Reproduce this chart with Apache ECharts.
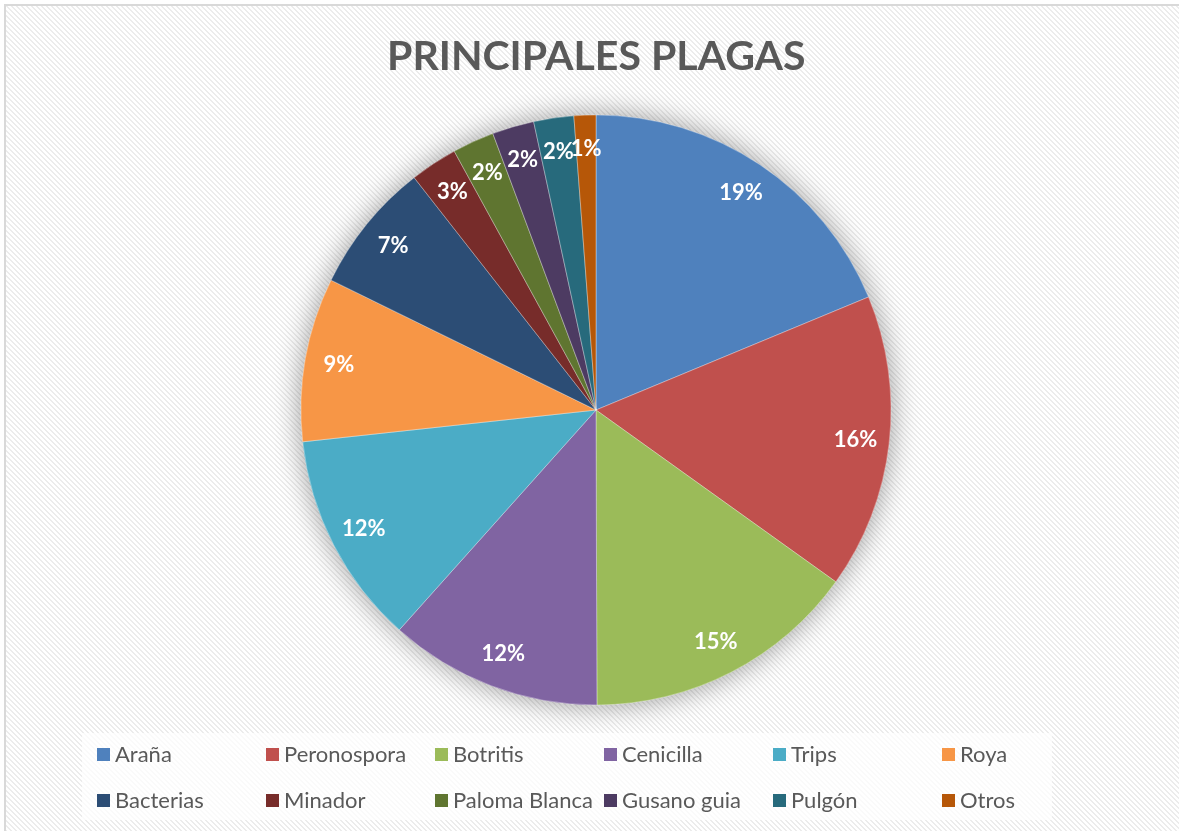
<!DOCTYPE html>
<html>
<head>
<meta charset="utf-8">
<script src="https://cdn.jsdelivr.net/npm/echarts@6/dist/echarts.min.js"></script>
<style>
  html, body { margin: 0; padding: 0; background: #fff; }
  #chart { width: 1179px; height: 831px; }
</style>
</head>
<body>
<div id="chart"></div>
<script>
// datos
var plagas = ['Araña', 'Peronospora', 'Botritis', 'Cenicilla', 'Trips', 'Roya',
  'Bacterias', 'Minador', 'Paloma Blanca', 'Gusano guia', 'Pulgón', 'Otros']
var valores = [18.8, 16.2, 15.1, 11.7, 11.7, 9.0, 7.2, 2.6, 2.3, 2.3, 2.2, 1.2]
var colores = ['#4F81BD', '#C0504D', '#9BBB59', '#8064A2', '#4BACC6', '#F79646',
  '#2C4D75', '#772C2A', '#5F7530', '#4D3B62', '#276A7C', '#B65708']

var FONT = 'Lato'

// trama diagonal del fondo
var tile = document.createElement('canvas')
tile.width = 5
tile.height = 5
var tctx = tile.getContext('2d')
tctx.fillStyle = '#ffffff'
tctx.fillRect(0, 0, 5, 5)
tctx.fillStyle = '#ececec'
for (var i = 0; i < 5; i++) {
  tctx.fillRect(i, i, 1, 1)
  tctx.fillRect((i + 1) % 5, i, 1, 1)
}

var datos = plagas.map(function (n, k) {
  return { name: n, value: valores[k], itemStyle: { color: colores[k] } }
})

// la ultima columna de la leyenda es mas corta
var leyenda = plagas.map(function (n, k) {
  return (k % 6 === 5) ? { name: n, textStyle: { width: 70 } } : n
})

var centro = [596, 410]
var radio = 295

var option = {
  backgroundColor: '#ffffff',
  animation: false,
  graphic: [{
    type: 'rect',
    z: -10,
    shape: { x: 5, y: 5, width: 1400, height: 1000 },
    style: {
      fill: { image: tile, repeat: 'repeat' },
      stroke: '#d9d9d9',
      lineWidth: 2
    },
    silent: true
  }],
  title: {
    text: 'PRINCIPALES PLAGAS',
    left: 387,
    top: 36,
    padding: 0,
    textStyle: {
      fontFamily: FONT,
      fontWeight: 'bold',
      fontSize: 41,
      color: '#595959'
    }
  },
  legend: {
    data: leyenda,
    orient: 'horizontal',
    left: 82,
    top: 733,
    width: 1040,
    padding: [2, 22, 0, 15],
    backgroundColor: 'rgba(255,255,255,0.75)',
    itemWidth: 13,
    itemHeight: 13,
    itemGap: 7,
    icon: 'rect',
    selectedMode: false,
    textStyle: {
      fontFamily: FONT,
      fontSize: 22,
      color: '#595959',
      width: 144,
      lineHeight: 39
    }
  },
  series: [{
    // sombra suave
    type: 'pie',
    center: centro,
    radius: [0, radio],
    startAngle: 90,
    silent: true,
    z: 1,
    label: { show: false },
    labelLine: { show: false },
    itemStyle: {
      shadowBlur: 28,
      shadowColor: 'rgba(0,0,0,0.4)'
    },
    data: datos
  }, {
    type: 'pie',
    center: centro,
    radius: [0, radio],
    startAngle: 90,
    z: 2,
    label: { show: false },
    labelLine: { show: false },
    itemStyle: {
      borderColor: 'rgba(255,255,255,0.35)',
      borderWidth: 1
    },
    emphasis: { disabled: true },
    data: datos
  }, {
    // etiquetas de porcentaje
    type: 'pie',
    center: centro,
    radius: [radio * 0.75, radio],
    startAngle: 90,
    silent: true,
    z: 3,
    minShowLabelAngle: 0,
    avoidLabelOverlap: false,
    labelLayout: { hideOverlap: false },
    itemStyle: { color: 'rgba(0,0,0,0)' },
    labelLine: { show: false },
    label: {
      show: true,
      position: 'inside',
      fontFamily: FONT,
      fontWeight: 'bold',
      fontSize: 22,
      color: '#ffffff',
      formatter: function (p) {
        return Math.round(p.percent) + '%'
      }
    },
    data: plagas.map(function (n, k) {
      return { name: n, value: valores[k] }
    })
  }]
}

var myChart = echarts.init(document.getElementById('chart'))
myChart.setOption(option)
</script>
</body>
</html>
